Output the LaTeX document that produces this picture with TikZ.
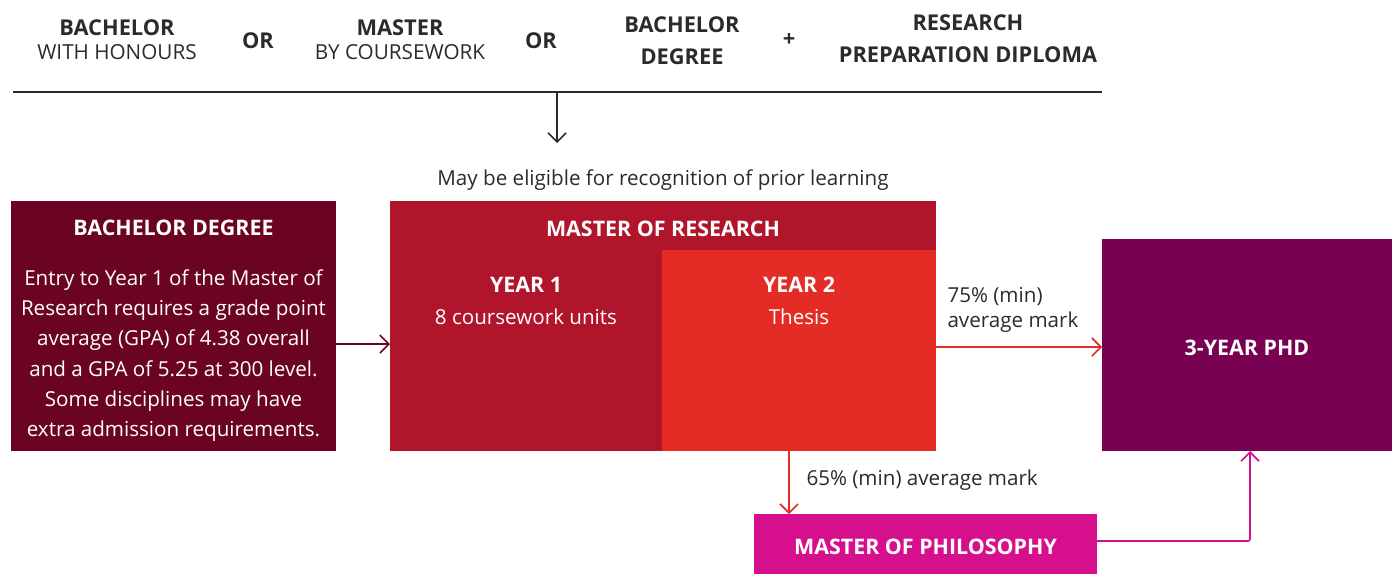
\documentclass[tikz,border=0pt]{standalone}
\usepackage{fontspec}
\setmainfont{Open Sans}
\usetikzlibrary{arrows.meta}
\definecolor{cmaroon}{HTML}{6B0422}
\definecolor{cmres}{HTML}{B0152B}
\definecolor{cyear}{HTML}{E52B25}
\definecolor{cphd}{HTML}{780152}
\definecolor{cmphil}{HTML}{D6108C}
\definecolor{cdark}{HTML}{2B2B2B}
\tikzset{
  box/.style={inner sep=0pt, outer sep=0pt},
  head/.style={font=\bfseries\fontsize{21.8}{24}\selectfont, text=cdark, align=center},
  sub/.style={font=\fontsize{20.7}{24}\selectfont, text=cdark, align=center},
  wtitle/.style={font=\bfseries\fontsize{21.4}{24}\selectfont, text=white},
  wbody/.style={font=\fontsize{20.6}{30.3}\selectfont, text=white, align=center},
  lbl/.style={font=\fontsize{20.6}{25}\selectfont, text=cdark},
  arr/.style={line width=1.6pt, -{Straight Barb[length=9pt,width=18pt,line width=1.6pt]}}
}
\begin{document}
\begin{tikzpicture}[x=1pt,y=-1pt]
\useasboundingbox (0,0) rectangle (1392,574);
% header
\node[head] (h1) at (117,28) {BACHELOR};
\node[sub] (h1b) at (117,52) {WITH HONOURS};
\node[head] (or1) at (258,41) {OR};
\node[head] (h2) at (400,28) {MASTER};
\node[sub] (h2b) at (400,52) {BY COURSEWORK};
\node[head] (or2) at (541,41) {OR};
\node[head] (h3) at (682,25) {BACHELOR};
\node[head] (h3b) at (682,57) {DEGREE};
\node[head] (plus) at (789,40) {+};
\node[head] (h4) at (968,23) {RESEARCH};
\node[head] (h4b) at (968,55) {PREPARATION DIPLOMA};
\coordinate (la) at (13,92);
\coordinate (lb) at (1102,92);
\draw[cdark, line width=1.6pt] (la) -- (lb);
\coordinate (dtop) at (557,92);
\coordinate (dbot) at (557,143);
\draw[arr, cdark] (dtop) -- (dbot);
\node[lbl] (rpl) at (663,180) {May be eligible for recognition of prior learning};
% boxes
\node[box, fill=cmaroon, minimum width=325pt, minimum height=250pt] (bachbox) at (173.5,326) {};
\node[wtitle] (bacht) at (173.5,228) {BACHELOR DEGREE};
\node[wbody] (bachtxt) at (173.5,355.5) {Entry to Year 1 of the Master of\\Research requires a grade point\\average (GPA) of 4.38 overall\\and a GPA of 5.25 at 300 level.\\Some disciplines may have\\extra admission requirements.};
\node[box, fill=cmres, minimum width=546pt, minimum height=250pt] (mres) at (663,326) {};
\node[box, fill=cyear, minimum width=274pt, minimum height=201pt] (y2) at (799,350.5) {};
\node[wtitle] (mrest) at (663,229) {MASTER OF RESEARCH};
\node[wtitle] (y1t) at (526,285) {YEAR 1};
\node[wbody] (y1b) at (526,317) {8 coursework units};
\node[wtitle] (y2t) at (799,285) {YEAR 2};
\node[wbody] (y2b) at (799,317) {Thesis};
\node[box, fill=cphd, minimum width=290pt, minimum height=212pt] (phd) at (1247,345) {};
\node[font=\bfseries\fontsize{21.4}{24}\selectfont, text=white] (phdt) at (1247,348) {3-YEAR PHD};
\node[box, fill=cmphil, minimum width=343pt, minimum height=60pt] (mphil) at (925.5,544) {};
\node[font=\bfseries\fontsize{21.4}{24}\selectfont, text=white] (mphilt) at (925.5,547) {MASTER OF PHILOSOPHY};
% connectors
\draw[arr, cmaroon] (bachbox.east |- 0,344) -- (mres.west |- 0,344);
\draw[arr, cyear] (mres.east |- 0,347) -- (phd.west |- 0,347);
\node[lbl, anchor=west, align=left] (l75) at (944,310) {75\% (min)\\average mark};
\draw[arr, cyear] (mres.south -| 789,0) -- (mphil.north -| 789,0);
\node[lbl, anchor=west] (l65) at (803,480) {65\% (min) average mark};
\draw[arr, cmphil, rounded corners=2pt] (mphil.east |- 0,541) -| (phd.south -| 1250,0);
\end{tikzpicture}
\end{document}
